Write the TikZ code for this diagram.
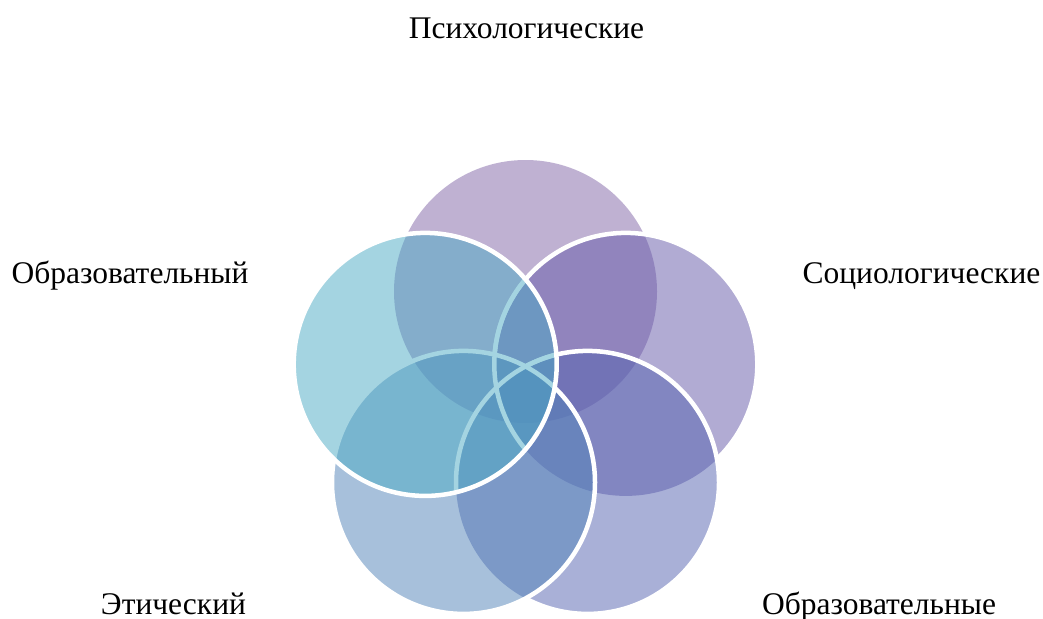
\documentclass[tikz,border=0pt]{standalone}
\usepackage{fontspec}
\setmainfont{Liberation Serif}
\definecolor{cTop}{HTML}{8165A7}
\definecolor{cRight}{HTML}{6559A9}
\definecolor{cBR}{HTML}{5563B1}
\definecolor{cBL}{HTML}{5183B9}
\definecolor{cLeft}{HTML}{4BABC5}
\begin{document}
\begin{tikzpicture}[x=1pt,y=-1pt,
  lbl/.style={font=\fontsize{31.5}{37}\selectfont, inner sep=0pt, anchor=base, text=black},
  halo/.style={draw=white, line width=4.5pt},
  petal/.style={fill opacity=0.5}]
\useasboundingbox[fill=white] (0,0) rectangle (1043,618);
\def\rad{131.5pt}
\coordinate (cT) at (525.5,291.5);
\coordinate (cR) at (625.8,364.4);
\coordinate (cBRc) at (587.5,482.4);
\coordinate (cBLc) at (463.5,482.4);
\coordinate (cL) at (425.2,364.4);
% fills
\fill[cTop, petal] (cT) circle[radius=\rad];
\fill[cRight, petal] (cR) circle[radius=\rad];
\fill[cBR, petal] (cBRc) circle[radius=\rad];
\fill[cBL, petal] (cBLc) circle[radius=\rad];
% white outlines inside the left circle
\begin{scope}
  \clip (cL) circle[radius=\rad];
  \draw[halo] (cR) circle[radius=\rad];
  \draw[halo] (cBRc) circle[radius=\rad];
\end{scope}
% white outlines where not covered by later circles
\begin{scope}[even odd rule]
  \clip (-10,-10) rectangle (1053,628) (cBLc) circle[radius=\rad];
  \draw[halo] (cBRc) circle[radius=\rad];
  \begin{scope}[even odd rule]
    \clip (-10,-10) rectangle (1053,628) (cBRc) circle[radius=\rad];
    \draw[halo] (cR) circle[radius=\rad];
  \end{scope}
\end{scope}
\draw[halo] (cBLc) circle[radius=\rad];
% left circle on top
\fill[cLeft, petal] (cL) circle[radius=\rad];
\draw[halo] (cL) circle[radius=\rad];
% labels
\node[lbl] (psy) at (526.5,38) {Психологические};
\node[lbl] (soc) at (921.5,283) {Социологические};
\node[lbl] (obr1) at (130,283) {Образовательный};
\node[lbl] (eth) at (173.5,614) {Этический};
\node[lbl] (obr2) at (879,614) {Образовательные};
\end{tikzpicture}
\end{document}
